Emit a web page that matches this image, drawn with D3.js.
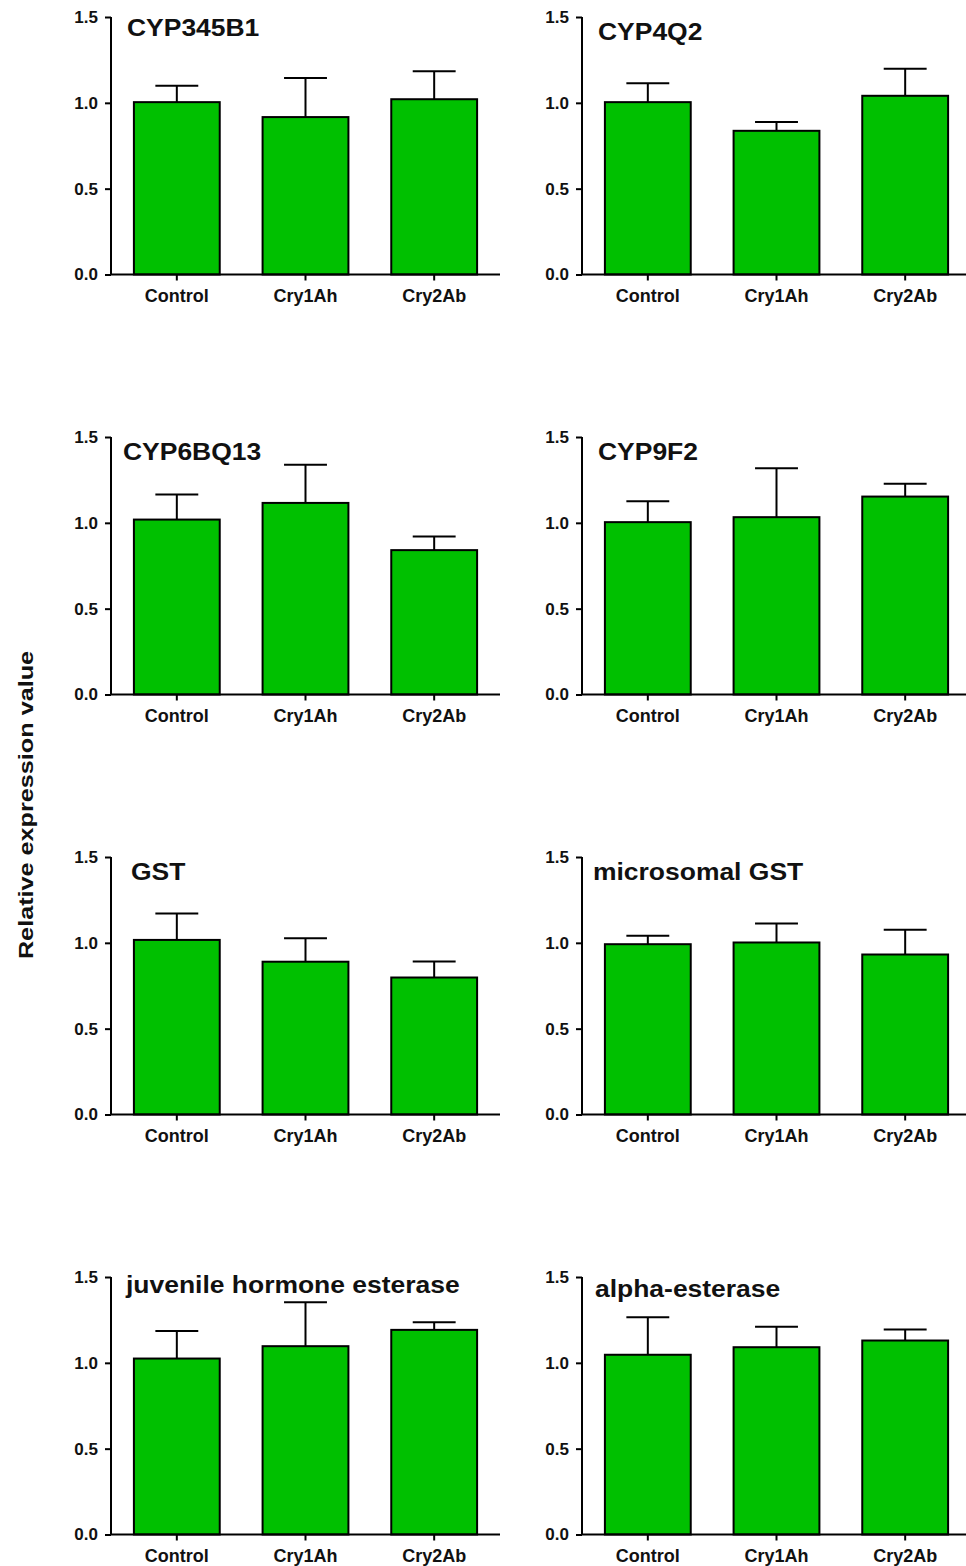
<!DOCTYPE html>
<html>
<head>
<meta charset="utf-8">
<script src="https://cdn.jsdelivr.net/npm/d3@7"></script>
<style>
  html, body { margin: 0; padding: 0; background: #fff; }
  svg { display: block; font-family: Arial, "Liberation Sans", sans-serif; }
</style>
</head>
<body>
<svg id="chart" width="966" height="1566"></svg>
<script>
// ---- data ----
const categories = ["Control", "Cry1Ah", "Cry2Ab"];
const genes = ["CYP345B1", "CYP4Q2", "CYP6BQ13", "CYP9F2", "GST", "microsomal GST", "juvenile hormone esterase", "alpha-esterase"];
const means = [
  [1.004, 0.917, 1.021],
  [1.004, 0.837, 1.041],
  [1.019, 1.116, 0.841],
  [1.004, 1.033, 1.153],
  [1.017, 0.890, 0.798],
  [0.992, 1.002, 0.932],
  [1.025, 1.097, 1.192],
  [1.047, 1.091, 1.130]
];
const errors = [
  [0.095, 0.228, 0.163],
  [0.110, 0.051, 0.157],
  [0.146, 0.223, 0.080],
  [0.122, 0.285, 0.074],
  [0.154, 0.137, 0.093],
  [0.049, 0.110, 0.144],
  [0.161, 0.256, 0.045],
  [0.219, 0.119, 0.064]
];
const yTicks = [0, 0.5, 1.0, 1.5];
const yLabel = "Relative expression value";

// ---- layout (not data) ----
const colX = [111, 582];
const rowTop0 = 17, rowStep = 420;
const plotW = 389, plotH = 257.5;
const titleOffset = [[16, 19], [16, 23], [12, 23], [16, 23], [20, 23], [11, 23], [15, 16], [13, 20]];
const barFill = "#00c000";

const svg = d3.select("#chart");
svg.append("rect").attr("width", 966).attr("height", 1566).attr("fill", "#fff");

const x = d3.scaleBand().domain(categories).range([0, plotW]).paddingInner(0.333).paddingOuter(0.178);
const y = d3.scaleLinear().domain([0, 1.5]).range([plotH, 0]);

function stretch(sel, factor) {
  sel.each(function () {
    const len = this.getComputedTextLength();
    d3.select(this).attr("textLength", len * factor).attr("lengthAdjust", "spacingAndGlyphs");
  });
}

genes.forEach((gene, i) => {
  const col = i % 2, row = Math.floor(i / 2);
  const g = svg.append("g").attr("transform", `translate(${colX[col]},${rowTop0 + row * rowStep})`);
  const rows = categories.map((c, j) => ({ cat: c, mean: means[i][j], err: errors[i][j] }));

  // error bars (upper only)
  const eb = g.append("g").selectAll("g").data(rows).join("g");
  eb.append("line")
    .attr("x1", d => x(d.cat) + x.bandwidth() / 2)
    .attr("x2", d => x(d.cat) + x.bandwidth() / 2)
    .attr("y1", d => y(d.mean))
    .attr("y2", d => y(d.mean + d.err))
    .attr("stroke", "#000").attr("stroke-width", 2);
  eb.append("line")
    .attr("x1", d => x(d.cat) + x.bandwidth() / 4)
    .attr("x2", d => x(d.cat) + x.bandwidth() * 3 / 4)
    .attr("y1", d => y(d.mean + d.err))
    .attr("y2", d => y(d.mean + d.err))
    .attr("stroke", "#000").attr("stroke-width", 2);

  // bars
  g.append("g").selectAll("rect").data(rows).join("rect")
    .attr("x", d => x(d.cat))
    .attr("y", d => y(d.mean))
    .attr("width", x.bandwidth())
    .attr("height", d => y(0) - y(d.mean))
    .attr("fill", barFill)
    .attr("stroke", "#000")
    .attr("stroke-width", 2);

  // y axis
  const ya = g.append("g").call(d3.axisLeft(y).tickValues(yTicks).tickFormat(d3.format(".1f")).tickSize(6).tickPadding(7));
  ya.select(".domain").attr("stroke-width", 2).attr("d", `M0,${y(1.5)}V${y(0)}`);
  ya.selectAll(".tick line").attr("stroke-width", 2);
  ya.selectAll(".tick text").attr("font-size", 17).attr("font-weight", "bold").attr("fill", "#111")
    .attr("font-family", "Arial, 'Liberation Sans', sans-serif");

  // x axis
  const xa = g.append("g").attr("transform", `translate(0,${plotH})`)
    .call(d3.axisBottom(x).tickSize(6).tickPadding(8));
  xa.select(".domain").attr("stroke-width", 2).attr("d", `M0,0H${plotW}`);
  xa.selectAll(".tick line").attr("stroke-width", 2);
  xa.selectAll(".tick text").attr("font-size", 18).attr("font-weight", "bold").attr("fill", "#111")
    .attr("font-family", "Arial, 'Liberation Sans', sans-serif")
    .attr("y", 27.5).attr("dy", 0);

  // title
  const t = g.append("text")
    .attr("x", titleOffset[i][0])
    .attr("y", titleOffset[i][1])
    .attr("font-size", 23).attr("font-weight", "bold").attr("fill", "#111")
    .text(gene);
  stretch(t, 1.15);
});

// shared y label
const yl = svg.append("text")
  .attr("transform", "translate(33,805) rotate(-90)")
  .attr("text-anchor", "middle")
  .attr("font-size", 21).attr("font-weight", "bold").attr("fill", "#111")
  .text(yLabel);
stretch(yl, 1.2);
</script>
</body>
</html>
